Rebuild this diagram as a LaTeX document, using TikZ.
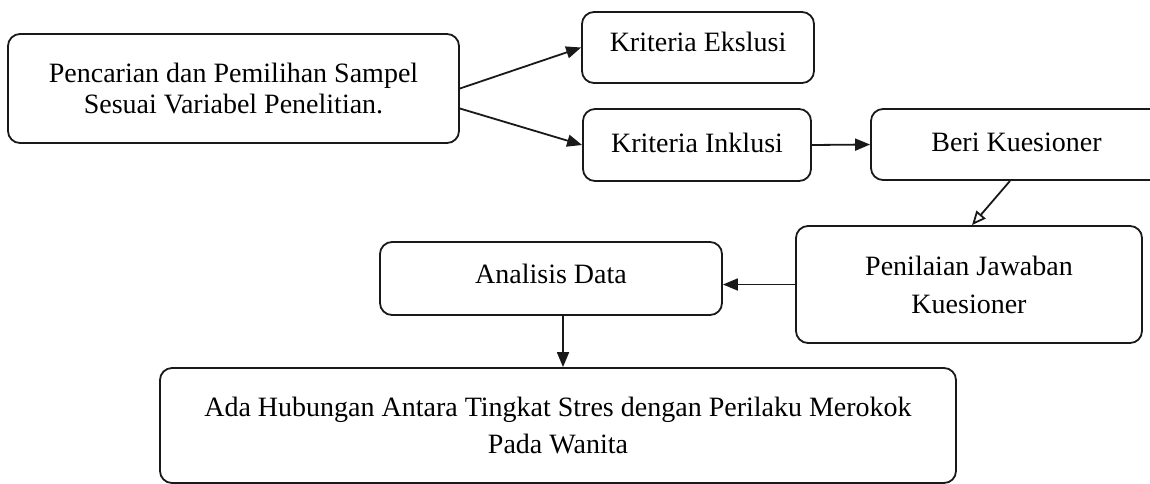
\documentclass[tikz,border=0pt]{standalone}
\usepackage{fontspec}
\setmainfont{Liberation Serif}
\usepackage{tikz}
\usetikzlibrary{arrows.meta}
\tikzstyle{box} = [draw=black!90, line width=0.9pt, rounded corners=6pt, align=center, font=\fontsize{14}{19}\selectfont]
\tikzstyle{flow} = [draw=black!90, line width=0.9pt, -{Triangle[length=7.5pt,width=6pt]}]
\tikzstyle{hollow} = [draw=black!90, line width=0.9pt, -{Triangle[open,length=7pt,width=6pt]}]
\newcommand{\up}[2]{\raisebox{#1}[\height][\depth]{#2}}

\begin{document}
\begin{tikzpicture}[x=0.5pt, y=-0.5pt]
\useasboundingbox (0,0) rectangle (1150,483);
\clip (0,0) rectangle (1150,483);
% boxes
\node[box, minimum width=225.5pt, minimum height=54.5pt, font=\fontsize{14}{15.5}\selectfont] (samp) at (233.5,88.5)
    {Pencarian dan Pemilihan Sampel\\Sesuai Variabel Penelitian.};
\node[box, minimum width=116pt, minimum height=35.5pt] (eks) at (698,47.5) {\up{2.75pt}{Kriteria Ekslusi}};
\node[box, minimum width=114pt, minimum height=36pt] (inkl) at (697,145) {\up{1pt}{Kriteria Inklusi}};
\node[box, minimum width=145.5pt, minimum height=35.5pt] (beri) at (1016.5,144.5) {\up{1pt}{Beri Kuesioner}};
\node[box, minimum width=173pt, minimum height=58.5pt] (nilai) at (969,284.5) {Penilaian Jawaban\\Kuesioner};
\node[box, minimum width=171pt, minimum height=36.5pt] (anal) at (551,278.5) {\up{2.5pt}{Analisis Data}};
\node[box, minimum width=398pt, minimum height=57.5pt, font=\fontsize{14}{18.5}\selectfont] (ada) at (558,425.5)
    {Ada Hubungan Antara Tingkat Stres dengan Perilaku Merokok\\Pada Wanita};
% arrows
\draw[flow] (samp.east) -- (eks.west);
\draw[flow] ([yshift=-10pt]samp.east) -- (inkl.west);
\draw[flow] (inkl.east) -- (beri.west);
\draw[hollow] ([xshift=-3.25pt]beri.south) -- ([xshift=1.5pt]nilai.north);
\draw[flow] (nilai.west) -- (nilai.west -| anal.east);
\draw[flow] ([xshift=6pt]anal.south) -- ([xshift=2.5pt]ada.north);
\end{tikzpicture}
\end{document}
